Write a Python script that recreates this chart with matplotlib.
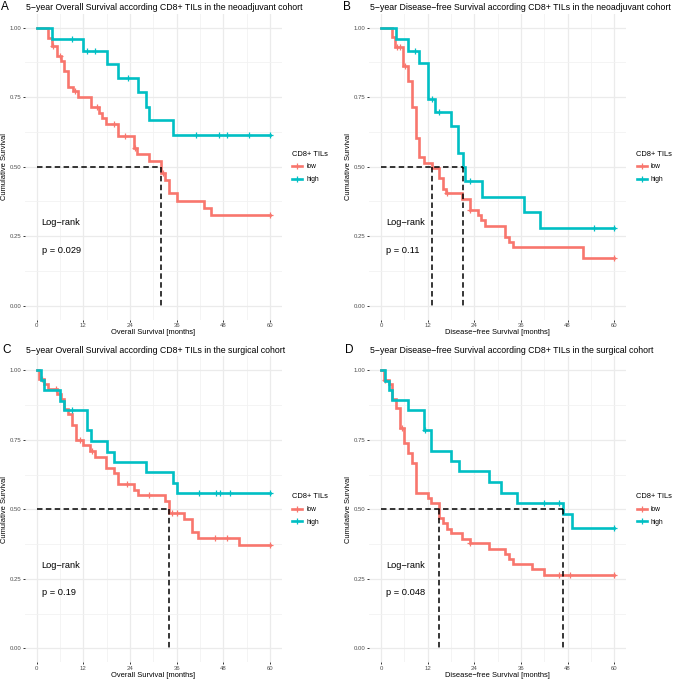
import numpy as np
import matplotlib
matplotlib.use('Agg')
import matplotlib.pyplot as plt
from matplotlib.lines import Line2D

plt.rcParams['font.family'] = ['Liberation Sans', 'DejaVu Sans']

RED = '#F8766D'
TEAL = '#00BFC4'
W, H = 674, 681

# ---------------- data ----------------
# Panel A: OS, neoadjuvant
A_low_t = [0, 2.8, 3.9, 5.3, 6.2, 7.0, 8.1, 9.4, 10.7, 13.9, 15.9, 16.7, 17.8, 21.0, 24.9, 25.7, 28.9, 32.0, 33.0, 33.9, 36.0, 42.9, 44.8]
A_low_s = [1.0, 0.964, 0.934, 0.898, 0.880, 0.844, 0.788, 0.772, 0.749, 0.713, 0.692, 0.674, 0.653, 0.610, 0.566, 0.546, 0.522, 0.476, 0.452, 0.405, 0.378, 0.353, 0.326]
A_low_c = [4.3, 6.0, 9.9, 15.4, 20.0, 22.7, 25.3, 32.6, 60]
A_high_t = [0, 4.0, 12.0, 18.0, 20.8, 26.0, 28.0, 28.9, 35.0]
A_high_s = [1.0, 0.958, 0.915, 0.869, 0.820, 0.769, 0.716, 0.667, 0.614]
A_high_c = [9.2, 13.0, 15.0, 23.4, 41.0, 47.0, 49.0, 54.7, 60]
A_medians = [32.0]
A_p = "p = 0.029"

# Panel B: DFS, neoadjuvant
B_low_t = [0, 2.8, 3.7, 5.7, 6.9, 8.0, 9.0, 9.9, 11.0, 13.1, 14.8, 15.9, 16.8, 20.8, 23.0, 24.9, 25.8, 26.8, 32.0, 33.0, 33.9, 51.9]
B_low_s = [1.0, 0.965, 0.932, 0.862, 0.808, 0.713, 0.605, 0.534, 0.514, 0.496, 0.458, 0.418, 0.404, 0.384, 0.344, 0.326, 0.308, 0.288, 0.248, 0.228, 0.212, 0.173]
B_low_c = [4.1, 5.0, 6.3, 17.0, 23.0, 60]
B_high_t = [0, 3.9, 6.9, 9.9, 12.0, 14.0, 18.0, 19.7, 21.0, 21.7, 26.0, 36.9, 40.8]
B_high_s = [1.0, 0.958, 0.915, 0.872, 0.743, 0.695, 0.647, 0.548, 0.500, 0.447, 0.392, 0.336, 0.279]
B_high_c = [8.8, 13.1, 14.8, 23.0, 54.9, 60]
B_medians = [13.1, 21.0]
B_p = "p = 0.11"

# Panel C: OS, surgical
C_low_t = [0, 0.7, 2.0, 3.0, 5.3, 6.2, 6.9, 8.0, 9.0, 10.0, 12.0, 13.7, 15.0, 17.8, 20.0, 21.0, 24.9, 26.0, 33.0, 33.9, 38.0, 39.9, 41.6, 51.9]
C_low_s = [1.0, 0.968, 0.950, 0.932, 0.915, 0.895, 0.860, 0.843, 0.803, 0.749, 0.730, 0.710, 0.689, 0.650, 0.632, 0.590, 0.570, 0.552, 0.530, 0.488, 0.464, 0.420, 0.398, 0.372]
C_low_c = [1.3, 5.0, 11.1, 14.1, 23.1, 29.0, 34.7, 36.0, 45.9, 48.9, 60]
C_high_t = [0, 1.0, 2.0, 6.0, 6.9, 13.0, 14.0, 18.0, 20.0, 28.0, 35.0, 36.0]
C_high_s = [1.0, 0.965, 0.929, 0.891, 0.857, 0.785, 0.746, 0.707, 0.669, 0.633, 0.596, 0.558]
C_high_c = [9.0, 41.7, 46.0, 47.1, 49.7, 60]
C_medians = [34.0]
C_p = "p = 0.19"

# Panel D: DFS, surgical
D_low_t = [0, 0.7, 2.0, 2.8, 3.9, 4.8, 5.8, 6.9, 8.0, 9.0, 12.0, 12.9, 14.8, 15.9, 17.0, 18.0, 20.8, 23.0, 27.9, 32.0, 33.0, 33.9, 38.8, 42.0]
D_low_s = [1.0, 0.965, 0.950, 0.896, 0.863, 0.791, 0.737, 0.701, 0.665, 0.558, 0.541, 0.522, 0.470, 0.450, 0.428, 0.414, 0.393, 0.378, 0.357, 0.338, 0.320, 0.302, 0.285, 0.264]
D_low_c = [1.1, 5.4, 23.0, 45.9, 48.7, 60]
D_high_t = [0, 1.1, 2.0, 2.8, 6.9, 11.0, 12.9, 18.0, 20.0, 27.9, 30.9, 35.0, 46.8, 49.1]
D_high_s = [1.0, 0.963, 0.929, 0.893, 0.857, 0.785, 0.710, 0.674, 0.638, 0.597, 0.560, 0.524, 0.482, 0.432]
D_high_c = [11.4, 41.8, 45.9, 60]
D_medians = [14.8, 46.8]
D_p = "p = 0.048"

titles = [
    "5\u2212year Overall Survival according CD8+ TILs in the neoadjuvant cohort",
    "5\u2212year Disease\u2212free Survival according CD8+ TILs in the neoadjuvant cohort",
    "5\u2212year Overall Survival according CD8+ TILs in the surgical cohort",
    "5\u2212year Disease\u2212free Survival according CD8+ TILs in the surgical cohort",
]
xlabels = ["Overall Survival [months]", "Disease\u2212free Survival [months]",
           "Overall Survival [months]", "Disease\u2212free Survival [months]"]
panel_letters = ["A", "B", "C", "D"]
group_labels = ["low", "high"]
legend_title = "CD8+ TILs"
ylabel = "Cumulative Survival"
x_ticks = [0, 12, 24, 36, 48, 60]
y_ticks = [0.0, 0.25, 0.5, 0.75, 1.0]

panels = [
    (A_low_t, A_low_s, A_low_c, A_high_t, A_high_s, A_high_c, A_medians, A_p),
    (B_low_t, B_low_s, B_low_c, B_high_t, B_high_s, B_high_c, B_medians, B_p),
    (C_low_t, C_low_s, C_low_c, C_high_t, C_high_s, C_high_c, C_medians, C_p),
    (D_low_t, D_low_s, D_low_c, D_high_t, D_high_s, D_high_c, D_medians, D_p),
]

# ---------------- layout (pixels) ----------------
# axes boxes (left, top, right, bottom) including ggplot expansion
boxes = [(25, 13.8, 281.7, 319.6), (369.3, 13.8, 626.0, 319.6),
         (25, 356.4, 281.7, 662.2), (369.3, 356.4, 626.0, 662.2)]
letter_x = [1, 343, 2, 345]


def fx(x):
    return x / W


def fy(y):
    return 1 - y / H


def km_step(t, s, tmax=60):
    return list(t) + [tmax], list(s) + [s[-1]]


def surv_at(t, s, c):
    t = np.asarray(t)
    s = np.asarray(s)
    idx = np.searchsorted(t, c, side='right') - 1
    return s[idx]


fig = plt.figure(figsize=(W / 100, H / 100), dpi=100)

for i, (box, data) in enumerate(zip(boxes, panels)):
    l, t, r, b = box
    ax = fig.add_axes([fx(l), fy(b), (r - l) / W, (b - t) / H])
    lt, ls, lc, ht, hs, hc, meds, ptxt = data

    ax.set_xlim(-3, 63)
    ax.set_ylim(-0.05, 1.05)
    for sp in ax.spines.values():
        sp.set_visible(False)
    ax.set_xticks(x_ticks)
    ax.set_xticks([6, 18, 30, 42, 54], minor=True)
    ax.set_yticks(y_ticks)
    ax.set_yticks([0.125, 0.375, 0.625, 0.875], minor=True)
    ax.set_yticklabels([f"{v:.2f}" for v in y_ticks])
    ax.set_xticklabels([str(v) for v in x_ticks])
    ax.grid(True, which='major', color='#EBEBEB', linewidth=0.9)
    ax.grid(True, which='minor', color='#F2F2F2', linewidth=0.6)
    ax.set_axisbelow(True)
    ax.tick_params(which='major', length=1.6, width=0.7, color='#333333',
                   labelsize=4.3, labelcolor='#4D4D4D', pad=1.2)
    ax.tick_params(which='minor', length=0)

    handles = []
    for tt, ss, cc, col, lab in [(lt, ls, lc, RED, group_labels[0]),
                                  (ht, hs, hc, TEAL, group_labels[1])]:
        xs, ys = km_step(tt, ss)
        ax.step(xs, ys, where='post', color=col, linewidth=1.9, solid_joinstyle='miter')
        ax.plot(cc, surv_at(tt, ss, cc), linestyle='none', marker='+', markersize=4,
                markeredgewidth=0.9, color=col)
        handles.append(Line2D([], [], color=col, linewidth=1.9, marker='+',
                              markersize=4, markeredgewidth=0.9))

    # median lines
    ax.plot([0, max(meds)], [0.5, 0.5], color='black', linewidth=1.1, dashes=(3.6, 2.2))
    for m in meds:
        ax.plot([m, m], [0.5, 0.0], color='black', linewidth=1.1, dashes=(3.6, 2.2))

    ax.text(1.3, 0.298, "Log\u2212rank", fontsize=6.7, ha='left', va='center')
    ax.text(1.3, 0.200, ptxt, fontsize=6.7, ha='left', va='center')

    # titles / labels
    fig.text(fx(letter_x[i]), fy(t - 3.8), panel_letters[i], fontsize=8.5,
             ha='left', va='baseline')
    fig.text(fx(l + 0.7), fy(t - 3.8), titles[i], fontsize=6.3, ha='left', va='baseline')
    fig.text(fx((l + r) / 2), fy(b + 13), xlabels[i], fontsize=5.4, ha='center',
             va='center')
    fig.text(fx(l - 20.5), fy((t + b) / 2), ylabel, fontsize=5.4, rotation=90,
             ha='center', va='center')

    leg = ax.legend(handles, group_labels, title=legend_title, loc='upper left',
                    bbox_to_anchor=(fx(r + 10.5), fy(t + 137)),
                    bbox_transform=fig.transFigure, frameon=False, fontsize=4.8,
                    title_fontsize=5.4, handlelength=1.5, handletextpad=0.6,
                    labelspacing=0.85, borderpad=0, borderaxespad=0,
                    alignment='left')

fig.savefig('out.png', dpi=100)
